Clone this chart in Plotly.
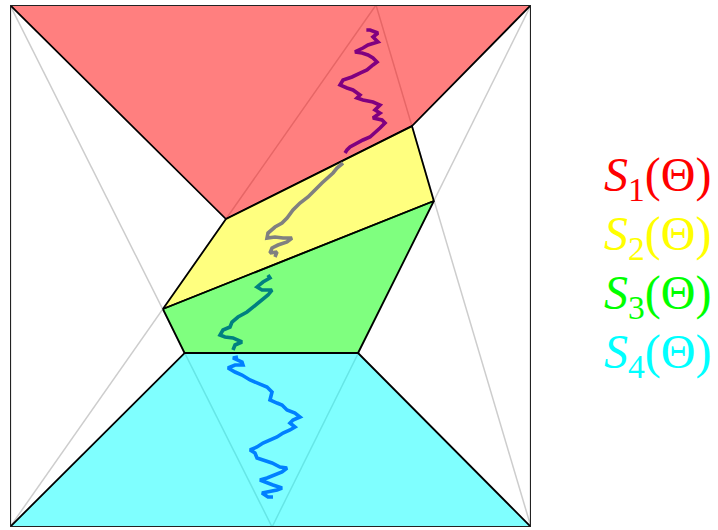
import plotly.graph_objects as go

# Unit square, corners and apexes of the two guide triangles
apex_top_x = 0.7025      # top apex (on y = 1)
apex_bottom_x = 0.503    # bottom apex (on y = 0)

# Vertices of the four regions S1..S4
A = (0.4145, 0.590)
B = (0.7715, 0.768)
C = (0.8135, 0.6245)
D = (0.2935, 0.4176)
E = (0.668, 0.3333)
F = (0.335, 0.3333)

region_names = ["S1", "S2", "S3", "S4"]
region_x = [
    [0, 1, B[0], A[0]],
    [A[0], B[0], C[0], D[0]],
    [D[0], C[0], E[0], F[0]],
    [F[0], E[0], 1, 0],
]
region_y = [
    [1, 1, B[1], A[1]],
    [A[1], B[1], C[1], D[1]],
    [D[1], C[1], E[1], F[1]],
    [F[1], E[1], 0, 0],
]
region_fill = ["rgba(255,0,0,0.5)", "rgba(255,255,0,0.5)",
               "rgba(0,255,0,0.5)", "rgba(0,255,255,0.5)"]
label_colors = ["#ff0000", "#ffff00", "#00ff00", "#00ffff"]
label_text = ["<i>S</i><sub>1</sub>(Θ)", "<i>S</i><sub>2</sub>(Θ)",
              "<i>S</i><sub>3</sub>(Θ)", "<i>S</i><sub>4</sub>(Θ)"]

# Sample path, split by the region each stretch lies in
path1_x = [0.684, 0.691, 0.7063, 0.6967, 0.7063, 0.6871, 0.6775, 0.6622, 0.6756, 0.6871,
           0.6967, 0.7044, 0.6967, 0.6852, 0.6718, 0.6564, 0.6392, 0.6334, 0.6468, 0.6583,
           0.6718, 0.666, 0.6775, 0.6967, 0.7102, 0.7006, 0.7102, 0.6967, 0.714, 0.7198,
           0.7102, 0.7006, 0.691, 0.6775, 0.666, 0.6526, 0.6468, 0.643]
path1_y = [0.952, 0.952, 0.9464, 0.9387, 0.9291, 0.9234, 0.9176, 0.910, 0.908, 0.9042,
           0.8985, 0.8908, 0.8851, 0.8755, 0.8697, 0.8621, 0.8563, 0.8467, 0.841, 0.8372,
           0.8276, 0.8218, 0.818, 0.8142, 0.8084, 0.7989, 0.7931, 0.7835, 0.7797, 0.774,
           0.7644, 0.7548, 0.7471, 0.7414, 0.7356, 0.728, 0.7222, 0.7165]

path2_x = [0.6392, 0.6276, 0.620, 0.6104, 0.5988, 0.5854, 0.572, 0.5566, 0.5432, 0.5317,
           0.5221, 0.5086, 0.4952, 0.4933, 0.5086, 0.524, 0.5413, 0.5317, 0.5144, 0.5029,
           0.499, 0.5125, 0.5086]
path2_y = [0.6973, 0.6877, 0.6782, 0.6705, 0.659, 0.6456, 0.6322, 0.6207, 0.6073, 0.592,
           0.5824, 0.5747, 0.5632, 0.5536, 0.5556, 0.5536, 0.5536, 0.546, 0.5402, 0.5345,
           0.5249, 0.5268, 0.5172]

path3_x = [0.4952, 0.499, 0.4856, 0.4741, 0.4837, 0.5029, 0.4952, 0.4837, 0.4664, 0.4549,
           0.4376, 0.4261, 0.4223, 0.4088, 0.4031, 0.4127, 0.428, 0.4453, 0.4319, 0.428]
path3_y = [0.4828, 0.477, 0.4693, 0.4598, 0.454, 0.454, 0.4444, 0.4349, 0.4215, 0.4119,
           0.4023, 0.3927, 0.3831, 0.3774, 0.3678, 0.364, 0.3621, 0.3544, 0.3487, 0.3391]

path4_x = [0.4376, 0.428, 0.4453, 0.4472, 0.4319, 0.4184, 0.4319, 0.4453, 0.4607, 0.476,
           0.4933, 0.5029, 0.499, 0.5125, 0.5221, 0.5317, 0.547, 0.5566, 0.5432, 0.5374,
           0.547, 0.5374, 0.524, 0.5125, 0.499, 0.4856, 0.4741, 0.4607, 0.4702, 0.4741,
           0.4856, 0.5029, 0.5182, 0.5317, 0.5221, 0.5086, 0.4933, 0.4798, 0.4933, 0.5048,
           0.5221, 0.5125, 0.4933, 0.4837, 0.4952, 0.5048]
path4_y = [0.3257, 0.3238, 0.3161, 0.3103, 0.3103, 0.3046, 0.2969, 0.2912, 0.2816, 0.2759,
           0.2682, 0.2586, 0.2433, 0.2375, 0.2337, 0.2241, 0.2184, 0.2107, 0.205, 0.1992,
           0.1916, 0.1858, 0.1801, 0.1724, 0.1667, 0.1609, 0.1533, 0.1475, 0.1418, 0.1322,
           0.1284, 0.1226, 0.1149, 0.113, 0.1054, 0.0996, 0.0939, 0.09, 0.0843, 0.0805,
           0.0747, 0.0709, 0.067, 0.0651, 0.0575, 0.0575]

path_colors = ["rgb(128,0,128)", "rgb(128,128,128)", "rgb(0,128,128)", "rgb(0,128,255)"]
paths = [(path1_x, path1_y), (path2_x, path2_y), (path3_x, path3_y), (path4_x, path4_y)]

fig = go.Figure()

# Guide lines: two triangles spanning the square
guides = [
    ([0, apex_bottom_x], [1, 0]),
    ([1, apex_bottom_x], [1, 0]),
    ([0, apex_top_x], [0, 1]),
    ([1, apex_top_x], [0, 1]),
]
for gx, gy in guides:
    fig.add_trace(go.Scatter(x=gx, y=gy, mode="lines",
                             line=dict(color="rgb(205,205,205)", width=1.5),
                             hoverinfo="skip", showlegend=False))

# Regions
for name, rx, ry, fc in zip(region_names, region_x, region_y, region_fill):
    fig.add_trace(go.Scatter(x=rx + [rx[0]], y=ry + [ry[0]], mode="lines",
                             fill="toself", fillcolor=fc,
                             line=dict(color="black", width=1.8),
                             name=name, showlegend=False))

# Sample path
for (px, py), pc in zip(paths, path_colors):
    fig.add_trace(go.Scatter(x=px, y=py, mode="lines",
                             line=dict(color=pc, width=3.6),
                             showlegend=False))

# Outer frame
fig.add_shape(type="rect", x0=0, y0=0, x1=1, y1=1, xref="x", yref="y",
              line=dict(color="#222222", width=2.2), layer="above")

# Region labels
label_y = [0.6686, 0.5556, 0.4425, 0.3295]
for txt, col, ly in zip(label_text, label_colors, label_y):
    fig.add_annotation(x=1.242, y=ly, xref="paper", yref="paper",
                       text=txt, showarrow=False,
                       font=dict(family="Liberation Serif", size=48, color=col),
                       xanchor="center", yanchor="middle")

fig.update_xaxes(range=[0, 1], visible=False, fixedrange=True)
fig.update_yaxes(range=[0, 1], visible=False, fixedrange=True)
fig.update_layout(width=718, height=530,
                  margin=dict(l=10, r=187, t=5, b=3),
                  plot_bgcolor="white", paper_bgcolor="white",
                  showlegend=False)

fig.write_html("out.html")
